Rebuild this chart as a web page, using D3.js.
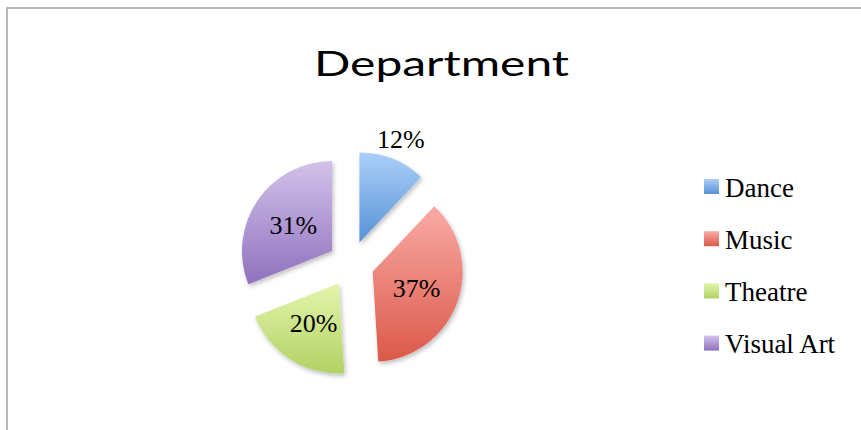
<!DOCTYPE html>
<html>
<head>
<meta charset="utf-8">
<script src="https://cdn.jsdelivr.net/npm/d3@7"></script>
<style>
  body { margin: 0; background: white; }
  svg { display: block; }
</style>
</head>
<body>
<svg></svg>
<script>
var w = 861
var h = 430

// data
var categories = ["Dance", "Music", "Theatre", "Visual Art"]
var values = [12, 37, 20, 31]
var labels = ["12%", "37%", "20%", "31%"]
var topColors = ["#abcff9", "#f9aba6", "#e4f4ab", "#d3c2eb"]
var bottomColors = ["#5792d6", "#db5849", "#b1d264", "#8f71bd"]
var titleText = "Department"

var cx = 351
var cy = 264
var rad = 90
var explode = 23

var svg = d3.select("svg")
  .attr("width", w)
  .attr("height", h)

var defs = svg.append("defs")

// soft shadow under the slices
var shadow = defs.append("filter")
  .attr("id", "shadow")
  .attr("x", "-20%").attr("y", "-20%")
  .attr("width", "140%").attr("height", "140%")
shadow.append("feDropShadow")
  .attr("dx", 1.5)
  .attr("dy", 2.5)
  .attr("stdDeviation", 2)
  .attr("flood-color", "#000")
  .attr("flood-opacity", 0.25)

categories.forEach(function(c, i) {
  var grad = defs.append("linearGradient")
    .attr("id", "grad" + i)
    .attr("x1", 0).attr("y1", 0)
    .attr("x2", 0).attr("y2", 1)
  grad.append("stop").attr("offset", "0%").attr("stop-color", topColors[i])
  grad.append("stop").attr("offset", "100%").attr("stop-color", bottomColors[i])
})

// outer border (runs off the right and bottom edges)
svg.append("rect")
  .attr("x", 7)
  .attr("y", 8)
  .attr("width", 900)
  .attr("height", 500)
  .attr("fill", "none")
  .attr("stroke", "#a3a3a3")
  .attr("stroke-width", 1.5)

// title - wide geometric face, so stretch the glyphs a bit
svg.append("text")
  .attr("x", 441.5)
  .attr("y", 76)
  .attr("text-anchor", "middle")
  .attr("font-family", "Lato, 'Noto Sans', sans-serif")
  .attr("font-size", 34)
  .attr("textLength", 255)
  .attr("lengthAdjust", "spacingAndGlyphs")
  .attr("fill", "#000")
  .text(titleText)

var pie = d3.pie()
  .sort(null)
  .value(function(d) { return d })

var arcs = pie(values)

var arcMaker = d3.arc()
  .innerRadius(0)
  .outerRadius(rad)

function offsetOf(a, dist) {
  var mid = (a.startAngle + a.endAngle) / 2
  return [Math.sin(mid) * dist, -Math.cos(mid) * dist]
}

var pieG = svg.append("g")
  .attr("transform", "translate(" + cx + "," + cy + ")")

pieG.selectAll("path")
  .data(arcs)
  .enter()
  .append("path")
  .attr("d", arcMaker)
  .attr("fill", function(d, i) { return "url(#grad" + i + ")" })
  .attr("filter", "url(#shadow)")
  .attr("transform", function(d) {
    var o = offsetOf(d, explode)
    return "translate(" + o[0] + "," + o[1] + ")"
  })

// labels: small slice goes outside, the rest sit inside
pieG.selectAll("text")
  .data(arcs)
  .enter()
  .append("text")
  .attr("transform", function(d) {
    var small = (d.endAngle - d.startAngle) < 1
    var o = offsetOf(d, explode + (small ? rad * 1.245 : rad * 0.52))
    return "translate(" + o[0] + "," + o[1] + ")"
  })
  .attr("dy", "0.35em")
  .attr("text-anchor", "middle")
  .attr("font-family", "'Liberation Serif', serif")
  .attr("font-size", 26)
  .attr("fill", "#000")
  .text(function(d, i) { return labels[i] })

// legend
var legend = svg.append("g")
  .attr("transform", "translate(704,179)")

var item = legend.selectAll("g")
  .data(categories)
  .enter()
  .append("g")
  .attr("transform", function(d, i) { return "translate(0," + (i * 52.2) + ")" })

item.append("rect")
  .attr("width", 15)
  .attr("height", 15)
  .attr("fill", function(d, i) { return "url(#grad" + i + ")" })

item.append("text")
  .attr("x", 21)
  .attr("y", 17.5)
  .attr("font-family", "'Liberation Serif', serif")
  .attr("font-size", 27)
  .attr("fill", "#000")
  .text(function(d) { return d })
</script>
</body>
</html>
